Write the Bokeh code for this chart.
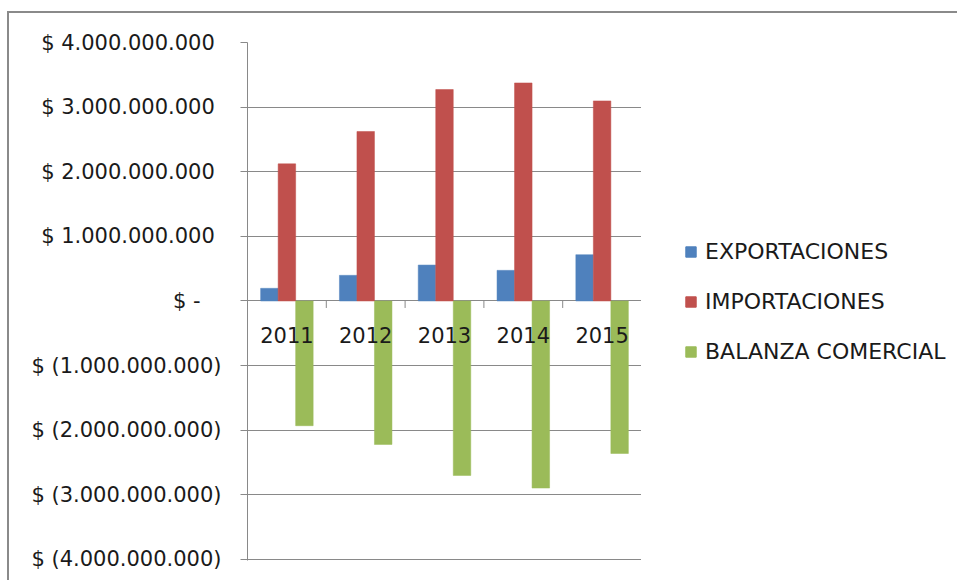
import math

from bokeh.core.properties import value
from bokeh.embed import file_html
from bokeh.layouts import row
from bokeh.models import (FactorRange, FixedTicker, InlineStyleSheet, Legend,
                          LegendItem, Range1d)
from bokeh.plotting import figure
from bokeh.resources import INLINE
from bokeh.transform import dodge

# Trade between Ecuador and China, US dollars per year
years = ["2011", "2012", "2013", "2014", "2015"]
exportaciones = [196_000_000, 397_000_000, 556_000_000, 474_000_000, 716_000_000]
importaciones = [2_122_000_000, 2_623_000_000, 3_272_000_000, 3_374_000_000, 3_096_000_000]
balanza = [-1_930_000_000, -2_220_000_000, -2_700_000_000, -2_895_000_000, -2_360_000_000]

series_names = ["EXPORTACIONES", "IMPORTACIONES", "BALANZA COMERCIAL"]
series_colors = ["#4F81BD", "#C0504D", "#9BBB59"]

y_ticks = [4_000_000_000, 3_000_000_000, 2_000_000_000, 1_000_000_000, 0,
           -1_000_000_000, -2_000_000_000, -3_000_000_000, -4_000_000_000]
y_tick_labels = ["$ 4.000.000.000\u2008", "$ 3.000.000.000\u2008",
                 "$ 2.000.000.000\u2008", "$ 1.000.000.000\u2008", "$ -\u2002\u2002",
                 "$ (1.000.000.000)", "$ (2.000.000.000)",
                 "$ (3.000.000.000)", "$ (4.000.000.000)"]

FONT = "DejaVu Sans"
FONT_SIZE = "21px"
LEGEND_FONT_SIZE = "22px"
GRID = "#898989"
TEXT = "#1a1a1a"

source = dict(year=years, exp=exportaciones, imp=importaciones, bal=balanza,
              zero=[0] * len(years))

# ---- chart area (bars and value axis) ----
# small margin below the lowest gridline so it is not clipped by the frame
p = figure(width=641, height=580, output_backend="svg", toolbar_location=None,
           x_range=FactorRange(*years),
           y_range=Range1d(-4_016_000_000, 4_000_000_000),
           min_border_left=247, min_border_right=0, min_border_top=42,
           min_border_bottom=20)
p.outline_line_color = None
p.background_fill_color = "white"
p.border_fill_color = "white"

# Clustered bars: width 1/4.5 of a category (gap width 150 %)
bar_w = 1 / 4.5
for col, offset, color in zip(["exp", "imp", "bal"], [-bar_w, 0.0, bar_w], series_colors):
    p.vbar(x=dodge("year", offset, range=p.x_range), top=col, bottom=0,
           width=bar_w, source=source, fill_color=color, line_color=color,
           line_width=0.5)

# Category tick marks on the zero line, between the clusters
p.ray(x=dodge("year", 0.5, range=p.x_range), y="zero", source=source,
      length=7, length_units="screen", angle=-math.pi / 2,
      line_color=GRID, line_width=1)

# Category labels just under the zero line
p.text(x="year", y="zero", text="year", source=source, y_offset=34,
       text_align="center", text_baseline="middle",
       text_font=value(FONT), text_font_size=FONT_SIZE, text_color=TEXT)

# X axis is drawn on the zero line above instead
p.xaxis.visible = False
p.xgrid.visible = False

p.yaxis.ticker = FixedTicker(ticks=y_ticks)
p.yaxis.major_label_overrides = dict(zip(y_ticks, y_tick_labels))
p.yaxis.major_label_text_font = FONT
p.yaxis.major_label_text_font_size = FONT_SIZE
p.yaxis.major_label_text_color = TEXT
p.yaxis.major_label_standoff = 19
p.yaxis.axis_line_color = GRID
p.yaxis.major_tick_line_color = GRID
p.yaxis.major_tick_out = 7
p.yaxis.major_tick_in = 0
p.yaxis.minor_tick_line_color = None
p.ygrid.grid_line_color = GRID
p.ygrid.ticker = FixedTicker(ticks=y_ticks)

# ---- legend panel to the right of the chart ----
lg = figure(width=316, height=580, output_backend="svg", toolbar_location=None,
            x_range=Range1d(0, 1), y_range=Range1d(0, 1),
            min_border_left=0, min_border_right=0, min_border_top=0,
            min_border_bottom=0)
lg.outline_line_color = None
lg.axis.visible = False
lg.grid.visible = False
lg.background_fill_color = "white"
lg.border_fill_color = "white"

# zero-height swatch glyphs, only used to draw the legend keys
swatches = [lg.vbar(x=[0], top=[0], bottom=[0], width=0, fill_color=c, line_color=c)
            for c in series_colors]
legend = Legend(items=[LegendItem(label=n, renderers=[r])
                       for n, r in zip(series_names, swatches)],
                location=(43, 196), orientation="vertical",
                glyph_width=13, glyph_height=13, label_standoff=8,
                label_text_font=FONT, label_text_font_size=LEGEND_FONT_SIZE,
                label_text_color=TEXT, label_height=25, spacing=25,
                padding=0, margin=0, border_line_color=None,
                background_fill_alpha=0)
lg.add_layout(legend)

layout = row(p, lg, spacing=0)

# Outer chart-area border (top and left edges)
layout.stylesheets = [InlineStyleSheet(css="""
:host::after {
  content: '';
  position: absolute;
  left: 7px; top: 11px; right: -20px; bottom: -20px;
  border-left: 2px solid #8a8a8a;
  border-top: 2px solid #8a8a8a;
  pointer-events: none;
}
""")]

open("out.html", "w").write(file_html(layout, INLINE))
